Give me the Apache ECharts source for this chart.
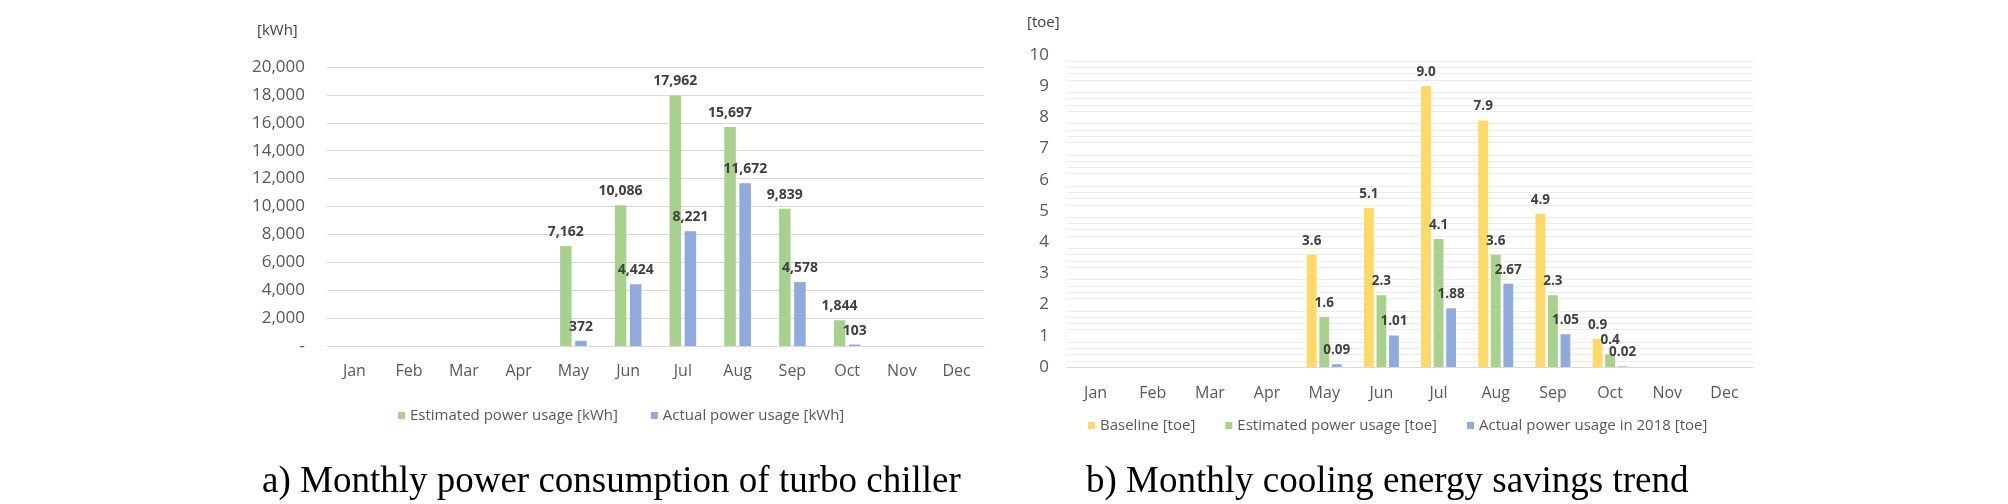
<!DOCTYPE html>
<html>
<head>
<meta charset="utf-8">
<script src="https://cdn.jsdelivr.net/npm/echarts@6/dist/echarts.min.js"></script>
<style>
html,body{margin:0;padding:0;background:#fff;}
#chart{width:2008px;height:504px;}
</style>
</head>
<body>
<div id="chart"></div>
<script>
// ---- data ----
const months = ['Jan','Feb','Mar','Apr','May','Jun','Jul','Aug','Sep','Oct','Nov','Dec'];

// a) Monthly power consumption of turbo chiller [kWh]
const estimatedKWh = [null,null,null,null,7162,10086,17962,15697,9839,1844,null,null];
const actualKWh    = [null,null,null,null,372,4424,8221,11672,4578,103,null,null];

// b) Monthly cooling energy savings trend [toe]
const baselineToe  = [null,null,null,null,3.6,5.1,9.0,7.9,4.9,0.9,null,null];
const estimatedToe = [null,null,null,null,1.6,2.3,4.1,3.6,2.3,0.4,null,null];
const actual2018Toe= [null,null,null,null,0.09,1.01,1.88,2.67,1.05,0.02,null,null];

const leftNames  = ['Estimated power usage [kWh]','Actual power usage [kWh]'];
const rightNames = ['Baseline [toe]','Estimated power usage [toe]','Actual power usage in 2018 [toe]'];

const axisLabelsLeft  = {unit:'[kWh]', min:0, max:20000, interval:2000};
const axisLabelsRight = {unit:'[toe]', min:0, max:10, interval:1};
const captions = ['a) Monthly power consumption of turbo chiller','b) Monthly cooling energy savings trend'];

// ---- styles ----
const GREEN = '#A9D18E', BLUE = '#8FAADC', YELLOW = '#FFD966';
const FONT = 'Open Sans';
const AXIS_TXT = '#595959';
const LBL_TXT = '#404040';

const chart = echarts.init(document.getElementById('chart'), null, {renderer:'canvas'});

function labelCfg(fmt, size){
  return {show:true, position:'top', distance:7, color:LBL_TXT, fontFamily:FONT,
          fontWeight:'bold', fontSize:size, formatter:p => p.value==null ? '' : fmt(p.value)};
}
const fmtThousands = v => Number(v).toLocaleString('en-US');

const option = {
  animation:false,
  backgroundColor:'#ffffff',
  grid:[
    {left:327, right:1024, top:67, bottom:158},
    {left:1067, right:255, top:55, bottom:137}
  ],
  xAxis:[
    {type:'category', gridIndex:0, data:months,
     axisLine:{lineStyle:{color:'#d9d9d9', width:1}}, axisTick:{show:false},
     axisLabel:{color:AXIS_TXT, fontFamily:FONT, fontSize:16, margin:17}},
    {type:'category', gridIndex:1, data:months,
     axisLine:{lineStyle:{color:'#d9d9d9', width:1}}, axisTick:{show:false},
     axisLabel:{color:AXIS_TXT, fontFamily:FONT, fontSize:16, margin:18}}
  ],
  yAxis:[
    {type:'value', gridIndex:0, min:axisLabelsLeft.min, max:axisLabelsLeft.max, interval:axisLabelsLeft.interval,
     axisLine:{show:false}, axisTick:{show:false},
     splitLine:{lineStyle:{color:'#d9d9d9', width:1}},
     axisLabel:{color:AXIS_TXT, fontFamily:FONT, fontSize:17, margin:22,
                formatter:v => v===0 ? '-' : fmtThousands(v)}},
    {type:'value', gridIndex:1, min:axisLabelsRight.min, max:axisLabelsRight.max, interval:axisLabelsRight.interval,
     axisLine:{show:false}, axisTick:{show:false},
     splitLine:{show:false},
     minorTick:{show:false, splitNumber:5},
     minorSplitLine:{show:true, lineStyle:{color:'#ebebeb', width:1}},
     axisLabel:{color:AXIS_TXT, fontFamily:FONT, fontSize:17, margin:18}}
  ],
  legend:[
    {data:leftNames, left:393, top:403, itemWidth:7, itemHeight:7, itemGap:33, icon:'rect',
     textStyle:{color:AXIS_TXT, fontFamily:FONT, fontSize:15}},
    {data:rightNames, left:1083, top:413, itemWidth:7, itemHeight:7, itemGap:30, icon:'rect',
     textStyle:{color:AXIS_TXT, fontFamily:FONT, fontSize:15}}
  ],
  series:[
    {name:leftNames[0], type:'bar', xAxisIndex:0, yAxisIndex:0, data:estimatedKWh,
     barWidth:11.5, barGap:'31%', itemStyle:{color:GREEN}, label:labelCfg(fmtThousands,14)},
    {name:leftNames[1], type:'bar', xAxisIndex:0, yAxisIndex:0, data:actualKWh,
     barWidth:11.5, barGap:'31%', itemStyle:{color:BLUE}, label:labelCfg(fmtThousands,14)},
    {name:rightNames[0], type:'bar', xAxisIndex:1, yAxisIndex:1, data:baselineToe,
     barWidth:9.8, barGap:'28%', itemStyle:{color:YELLOW}, label:labelCfg(v=>v.toFixed(1),13.5)},
    {name:rightNames[1], type:'bar', xAxisIndex:1, yAxisIndex:1, data:estimatedToe,
     barWidth:9.8, barGap:'28%', itemStyle:{color:GREEN}, label:labelCfg(v=>v.toFixed(1),13.5)},
    {name:rightNames[2], type:'bar', xAxisIndex:1, yAxisIndex:1, data:actual2018Toe,
     barWidth:9.8, barGap:'28%', itemStyle:{color:BLUE}, label:labelCfg(v=>v.toFixed(2),13.5)}
  ],
  graphic:[
    {type:'text', left:257, top:23, style:{text:axisLabelsLeft.unit, fill:LBL_TXT, font:'15px "Open Sans"'}},
    {type:'text', left:1027, top:15, style:{text:axisLabelsRight.unit, fill:LBL_TXT, font:'15px "Open Sans"'}},
    {type:'text', left:262, top:464, style:{text:captions[0], fill:'#000', font:'37px "Liberation Serif"'}},
    {type:'text', left:1086, top:464, style:{text:captions[1], fill:'#000', font:'37px "Liberation Serif"'}}
  ]
};
chart.setOption(option);
</script>
</body>
</html>
